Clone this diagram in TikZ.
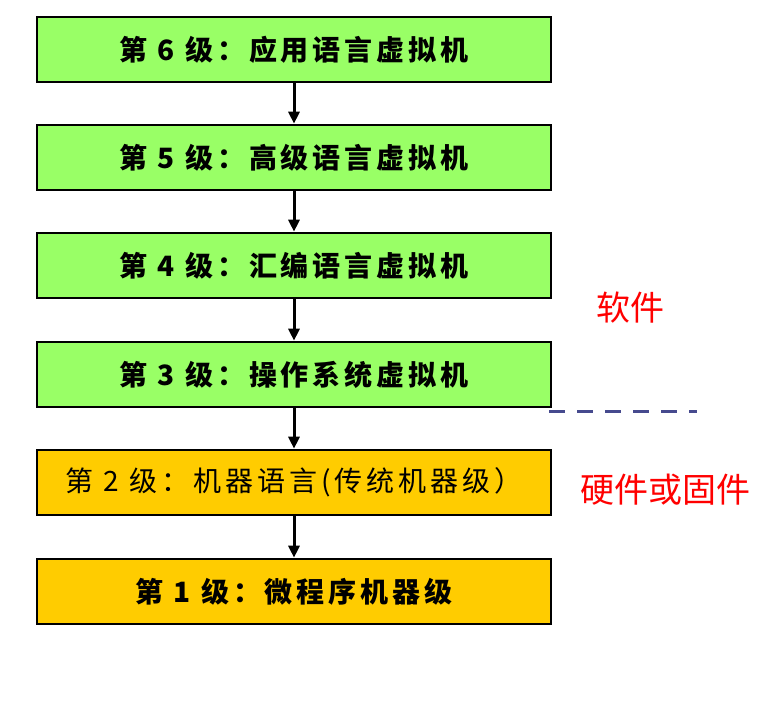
\documentclass[tikz,border=0pt]{standalone}
\usepackage{fontspec}
\newfontfamily\cjk[LetterSpace=14]{Noto Sans CJK SC}
\newfontfamily\cjkred{Noto Sans CJK SC}
\usetikzlibrary{arrows.meta}
\definecolor{lvgreen}{HTML}{99FF66}
\definecolor{lvgold}{HTML}{FFCC00}
\definecolor{dashblue}{HTML}{464A8E}
\begin{document}
\begin{tikzpicture}[x=1pt,y=-1pt,
  level/.style={draw=black,line width=2.6pt,minimum width=514pt,minimum height=65pt,
    inner sep=0pt,font=\cjk\fontsize{28}{32}\selectfont},
  greenbox/.style={level,fill=lvgreen},
  goldbox/.style={level,fill=lvgold},
  flow/.style={line width=3pt,-{Triangle[length=12pt,width=11pt]}},
  side/.style={text=red,font=\cjkred\fontsize{34}{38}\selectfont,inner sep=0pt}]
\useasboundingbox (0,0) rectangle (772,708);
\node[greenbox] (l6) at (294,49.5) {\bfseries 第 6 级：应用语言虚拟机};
\node[greenbox] (l5) at (294,157.5) {\bfseries 第 5 级：高级语言虚拟机};
\node[greenbox] (l4) at (294,265.5) {\bfseries 第 4 级：汇编语言虚拟机};
\node[greenbox] (l3) at (294,374.5) {\bfseries 第 3 级：操作系统虚拟机};
\node[goldbox] (l2) at (294,482.5) {第 2 级：机器语言(传统机器级）};
\node[goldbox] (l1) at (294,591.5) {\bfseries 第 1 级：微程序机器级};
\draw[flow] (l6.south) -- (l5.north);
\draw[flow] (l5.south) -- (l4.north);
\draw[flow] (l4.south) -- (l3.north);
\draw[flow] (l3.south) -- (l2.north);
\draw[flow] (l2.south) -- (l1.north);
\coordinate (dashA) at (549,411.5);
\coordinate (dashB) at (697,411.5);
\draw[dashblue,line width=3.5pt,dash pattern=on 16pt off 12pt] (dashA) -- (dashB);
\node[side] (soft) at (630,308) {软件};
\node[side] (hard) at (665,490) {硬件或固件};
\end{tikzpicture}
\end{document}
